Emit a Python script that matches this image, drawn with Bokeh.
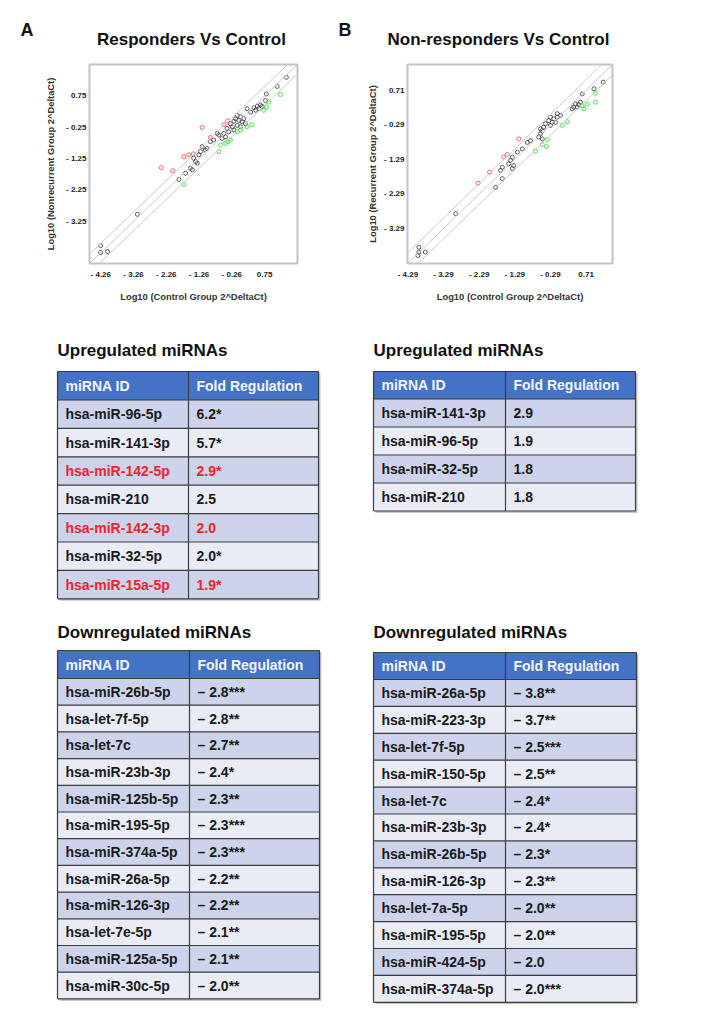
from bokeh.plotting import figure
from bokeh.layouts import column, row
from bokeh.models import Range1d, FixedTicker, Slope
from bokeh.embed import file_html
from bokeh.resources import INLINE
from bokeh.core.properties import value

FONT = "Liberation Sans"

# ---------------- scatter data (log10 2^-dCt) ----------------
# Panel A: Responders vs Control
a_gray_x = [1.41, 1.13, 0.80, 0.77, 0.62, 0.52, 0.42, 0.57, 0.67, 0.47, -0.09, 0.01, -0.14, -0.04, 0.11, 0.06,
            -0.19, -0.30, -0.09, 0.01, -0.24, -0.40, -0.35, -0.19, -0.50, -0.45, -0.55, -0.65, -0.70, -0.91,
            -1.01, -1.06, -1.21, -1.26, -1.42, -1.36, -1.31, -1.52, -1.46, -1.67, -1.87, -1.16, -0.81, -3.14,
            -4.26, -4.26, -4.05, 0.21, 0.32, 0.16]
a_gray_y = [1.34, 1.05, 0.81, 0.60, 0.46, 0.42, 0.37, 0.34, 0.41, 0.29, 0.13, 0.08, 0.02, -0.03, 0.02, -0.08,
            -0.06, -0.14, -0.19, -0.24, -0.24, -0.29, -0.40, -0.34, -0.45, -0.56, -0.61, -0.50, -0.45, -0.71,
            -0.93, -0.98, -1.03, -1.13, -1.24, -1.35, -1.40, -1.56, -1.61, -1.72, -1.92, -0.87, -0.66, -3.03,
            -4.03, -4.25, -4.22, 0.34, 0.23, -0.14]
a_up_x = [-1.16, -0.91, -0.50, -0.38, -1.72, -1.57, -1.43, -2.41, -2.06]
a_up_y = [-0.26, -0.58, -0.17, -0.05, -1.19, -1.13, -1.10, -1.54, -1.64]
a_down_x = [1.23, 0.87, 0.80, 0.72, 0.35, 0.21, 0.01, -0.09, -0.30, -0.38, -0.45, -0.60, -0.65, -1.72]
a_down_y = [0.79, 0.55, 0.39, 0.29, -0.17, -0.24, -0.34, -0.40, -0.66, -0.71, -0.77, -0.82, -1.03, -2.08]

# Panel B: Non-responders vs Control
b_gray_x = [1.19, 0.93, 0.60, 0.41, 0.36, 0.46, 0.50, 0.32, 0.55, -0.01, -0.10, -0.20, -0.24, -0.15, -0.29,
            -0.34, -0.43, -0.52, -0.57, -0.62, -0.52, -0.85, -0.94, -1.08, -1.22, -1.36, -1.41, -1.46, -1.32,
            -1.36, -1.64, -1.69, -1.64, -1.83, -0.10, -0.29, -0.48, -0.57, -2.95, -3.98, -3.98, -3.80, -4.01]
b_gray_y = [0.94, 0.75, 0.60, 0.31, 0.22, 0.22, 0.29, 0.17, 0.36, -0.02, -0.07, -0.12, -0.22, -0.22, -0.31,
            -0.17, -0.26, -0.46, -0.55, -0.65, -0.70, -0.75, -0.80, -0.99, -1.08, -1.23, -1.32, -1.42, -1.47,
            -1.56, -1.52, -1.61, -1.85, -2.10, 0.03, -0.07, -0.36, -0.41, -2.86, -3.83, -3.97, -3.97, -4.07]
b_up_x = [-1.18, -1.60, -1.50, -2.00, -2.32]
b_up_y = [-0.70, -1.22, -1.15, -1.66, -1.98]
b_down_x = [0.97, 0.97, 0.74, 0.65, 0.60, 0.18, 0.04, -0.38, -0.40, -0.71, -0.52]
b_down_y = [0.62, 0.36, 0.31, 0.17, 0.25, -0.20, -0.31, -0.72, -0.92, -1.05, -0.86]

FOLD_LINE = 0.3  # log10 fold boundary

a_ticks = [-4.255, -3.255, -2.255, -1.255, -0.255, 0.745]
a_tick_labels = ["- 4.26", "- 3.26", "- 2.26", "- 1.26", "- 0.26", "0.75"]
a_yticks = [-3.25, -2.25, -1.25, -0.25, 0.75]
a_ytick_labels = ["- 3.25", "- 2.25", "- 1.25", "- 0.25", "0.75"]
b_ticks = [-4.29, -3.29, -2.29, -1.29, -0.29, 0.71]
b_tick_labels = ["- 4.29", "- 3.29", "- 2.29", "- 1.29", "- 0.29", "0.71"]
b_yticks = [-3.29, -2.29, -1.29, -0.29, 0.71]
b_ytick_labels = ["- 3.29", "- 2.29", "- 1.29", "- 0.29", "0.71"]

panel_letters = ["A", "B"]
panel_titles = ["Responders Vs Control", "Non-responders Vs Control"]

# ---------------- table data ----------------
upA_ids = ["hsa-miR-96-5p", "hsa-miR-141-3p", "hsa-miR-142-5p", "hsa-miR-210", "hsa-miR-142-3p",
           "hsa-miR-32-5p", "hsa-miR-15a-5p"]
upA_fold = [6.2, 5.7, 2.9, 2.5, 2.0, 2.0, 1.9]
upA_sig = ["*", "*", "*", "", "", "*", "*"]
upA_red = [False, False, True, False, True, False, True]

upB_ids = ["hsa-miR-141-3p", "hsa-miR-96-5p", "hsa-miR-32-5p", "hsa-miR-210"]
upB_fold = [2.9, 1.9, 1.8, 1.8]
upB_sig = ["", "", "", ""]

downA_ids = ["hsa-miR-26b-5p", "hsa-let-7f-5p", "hsa-let-7c", "hsa-miR-23b-3p", "hsa-miR-125b-5p",
             "hsa-miR-195-5p", "hsa-miR-374a-5p", "hsa-miR-26a-5p", "hsa-miR-126-3p", "hsa-let-7e-5p",
             "hsa-miR-125a-5p", "hsa-miR-30c-5p"]
downA_fold = [-2.8, -2.8, -2.7, -2.4, -2.3, -2.3, -2.3, -2.2, -2.2, -2.1, -2.1, -2.0]
downA_sig = ["***", "**", "**", "*", "**", "***", "***", "**", "**", "**", "**", "**"]

downB_ids = ["hsa-miR-26a-5p", "hsa-miR-223-3p", "hsa-let-7f-5p", "hsa-miR-150-5p", "hsa-let-7c",
             "hsa-miR-23b-3p", "hsa-miR-26b-5p", "hsa-miR-126-3p", "hsa-let-7a-5p", "hsa-miR-195-5p",
             "hsa-miR-424-5p", "hsa-miR-374a-5p"]
downB_fold = [-3.8, -3.7, -2.5, -2.5, -2.4, -2.4, -2.3, -2.3, -2.0, -2.0, -2.0, -2.0]
downB_sig = ["**", "**", "***", "**", "*", "*", "*", "**", "**", "**", "", "***"]

GRAY_PT = "#4a4a4a"
RED_PT = "#f05a5a"
GREEN_PT = "#3cdc3c"

# ---------------- header (panel letters and titles) ----------------
ph = figure(width=704, height=54, output_backend="svg", toolbar_location=None,
            x_range=Range1d(0, 704), y_range=Range1d(54, 0),
            x_axis_type=None, y_axis_type=None, min_border=0)
ph.outline_line_color = None
ph.grid.visible = False
ph.text(x=[20, 338], y=[29, 29], text=panel_letters, text_font=value(FONT), text_font_style="bold",
        text_font_size="18px", text_color="#111111", text_baseline="alphabetic")
ph.text(x=[191, 498], y=[39, 39], text=panel_titles, text_font=value(FONT), text_font_style="bold",
        text_font_size="17px", text_color="#111111", text_baseline="alphabetic", text_align="center")


def scatter_panel(ylab, gx, gy, ux, uy, dx, dy, rng, xt, xtl, yt, ytl, borders, ylab_standoff):
    left, right, top, bottom = borders
    p = figure(width=352, height=271, output_backend="svg", toolbar_location=None,
               x_range=Range1d(*rng), y_range=Range1d(*rng),
               min_border_left=left, min_border_right=right, min_border_top=top, min_border_bottom=bottom)
    p.grid.visible = False
    p.outline_line_color = "#c4c4c4"
    p.outline_line_width = 2
    for c in (0, FOLD_LINE, -FOLD_LINE):
        p.add_layout(Slope(gradient=1, y_intercept=c, line_color="#cacaca", line_width=1))
    p.scatter(gx, gy, marker="circle", size=4, fill_color=None, line_color=GRAY_PT, line_width=0.9)
    p.scatter(ux, uy, marker="circle", size=4, fill_color=None, line_color=RED_PT, line_width=0.9)
    p.scatter(dx, dy, marker="circle", size=4, fill_color=None, line_color=GREEN_PT, line_width=0.9)

    p.xaxis.ticker = FixedTicker(ticks=xt)
    p.xaxis.major_label_overrides = {t: l for t, l in zip(xt, xtl)}
    p.yaxis.ticker = FixedTicker(ticks=yt)
    p.yaxis.major_label_overrides = {t: l for t, l in zip(yt, ytl)}
    for ax in (p.xaxis[0], p.yaxis[0]):
        ax.axis_line_color = None
        ax.major_tick_out = 0
        ax.major_tick_in = 0
        ax.minor_tick_out = 0
        ax.minor_tick_in = 0
        ax.major_label_text_font = FONT
        ax.major_label_text_font_style = "bold"
        ax.major_label_text_font_size = "8px"
        ax.major_label_text_color = "#222222"
        ax.axis_label_text_font = FONT
        ax.axis_label_text_font_style = "bold"
        ax.axis_label_text_font_size = "9.4px"
        ax.axis_label_text_color = "#333333"
    p.xaxis.axis_label = "Log10 (Control Group 2^DeltaCt)"
    p.yaxis.axis_label = ylab
    p.xaxis.major_label_standoff = 6
    p.xaxis.axis_label_standoff = 9
    p.yaxis.major_label_standoff = 3
    p.yaxis.axis_label_standoff = ylab_standoff
    return p


pA = scatter_panel("Log10 (Nonrecurrent Group 2^DeltaCt)",
                   a_gray_x, a_gray_y, a_up_x, a_up_y, a_down_x, a_down_y, (-4.6, 1.75),
                   a_ticks, a_tick_labels, a_yticks, a_ytick_labels, (89, 55, 8, 62), 7)
pB = scatter_panel("Log10 (Recurrent Group 2^DeltaCt)",
                   b_gray_x, b_gray_y, b_up_x, b_up_y, b_down_x, b_down_y, (-4.3, 1.45),
                   b_ticks, b_tick_labels, b_yticks, b_ytick_labels, (55, 92, 10, 62), 3)

# ---------------- tables ----------------
pt = figure(width=704, height=702, output_backend="svg", toolbar_location=None,
            x_range=Range1d(0, 704), y_range=Range1d(1027, 325),
            x_axis_type=None, y_axis_type=None, min_border=0)
pt.outline_line_color = None
pt.grid.visible = False

HEAD = "#4472c4"
ODD = "#cdd3ea"
EVEN = "#e9ebf5"
LINE = "#3c3c3c"
RED_TXT = "#e8262b"
TXT = "#1a1a1a"


def fmt(v, s):
    return (f"\u2013 {abs(v):.1f}" if v < 0 else f"{v:.1f}") + s


def draw_table(title, ids, folds, sig, red, left, mid, right, top, head_h, row_h, title_y):
    n = len(ids)
    tops = [top + head_h + i * row_h for i in range(n)]
    bots = [t + row_h for t in tops]
    bottom = bots[-1]
    pt.quad(left=left + 2, right=right + 2, top=top + 2, bottom=bottom + 2,
            fill_color="#a0a0a0", fill_alpha=0.6, line_color=None)
    pt.quad(left=left, right=right, top=top, bottom=top + head_h, fill_color=HEAD, line_color=None)
    fills = [ODD if i % 2 == 0 else EVEN for i in range(n)]
    pt.quad(left=left, right=right, top=tops, bottom=bots, fill_color=fills, line_color=None)
    hy = [top] + [top + head_h + i * row_h for i in range(n + 1)]
    pt.segment(x0=left, x1=right, y0=hy, y1=hy, line_color=LINE, line_width=1.2)
    pt.segment(x0=[left, mid, right], x1=[left, mid, right], y0=top, y1=bottom,
               line_color=LINE, line_width=1.2)
    pt.text(x=[left + 8, mid + 8], y=[top + head_h / 2] * 2, text=["miRNA ID", "Fold Regulation"],
            text_color="#f4f6fc", text_font=value(FONT), text_font_style="bold", text_font_size="14px",
            text_baseline="middle")
    centers = [t + row_h / 2 for t in tops]
    cols = [RED_TXT if r else TXT for r in red]
    pt.text(x=left + 8, y=centers, text=ids, text_color=cols, text_font=value(FONT),
            text_font_style="bold", text_font_size="14px", text_baseline="middle")
    pt.text(x=mid + 8, y=centers, text=[fmt(v, s) for v, s in zip(folds, sig)], text_color=cols,
            text_font=value(FONT), text_font_style="bold", text_font_size="14px", text_baseline="middle")
    pt.text(x=[left], y=[title_y], text=[title], text_color="#111111", text_font=value(FONT),
            text_font_style="bold", text_font_size="17px", text_baseline="middle")


draw_table("Upregulated miRNAs", upA_ids, upA_fold, upA_sig, upA_red,
           57, 188, 318, 371, 28.5, 28.4, 350)
draw_table("Upregulated miRNAs", upB_ids, upB_fold, upB_sig, [False] * len(upB_ids),
           373, 505, 635, 371, 27.5, 28.0, 350)
draw_table("Downregulated miRNAs", downA_ids, downA_fold, downA_sig, [False] * len(downA_ids),
           57, 189, 319, 650, 28.0, 26.7, 632)
draw_table("Downregulated miRNAs", downB_ids, downB_fold, downB_sig, [False] * len(downB_ids),
           373, 505, 636, 652, 27.0, 26.9, 632)

layout = column(ph, row(pA, pB), pt)
open("out.html", "w").write(file_html(layout, INLINE))
